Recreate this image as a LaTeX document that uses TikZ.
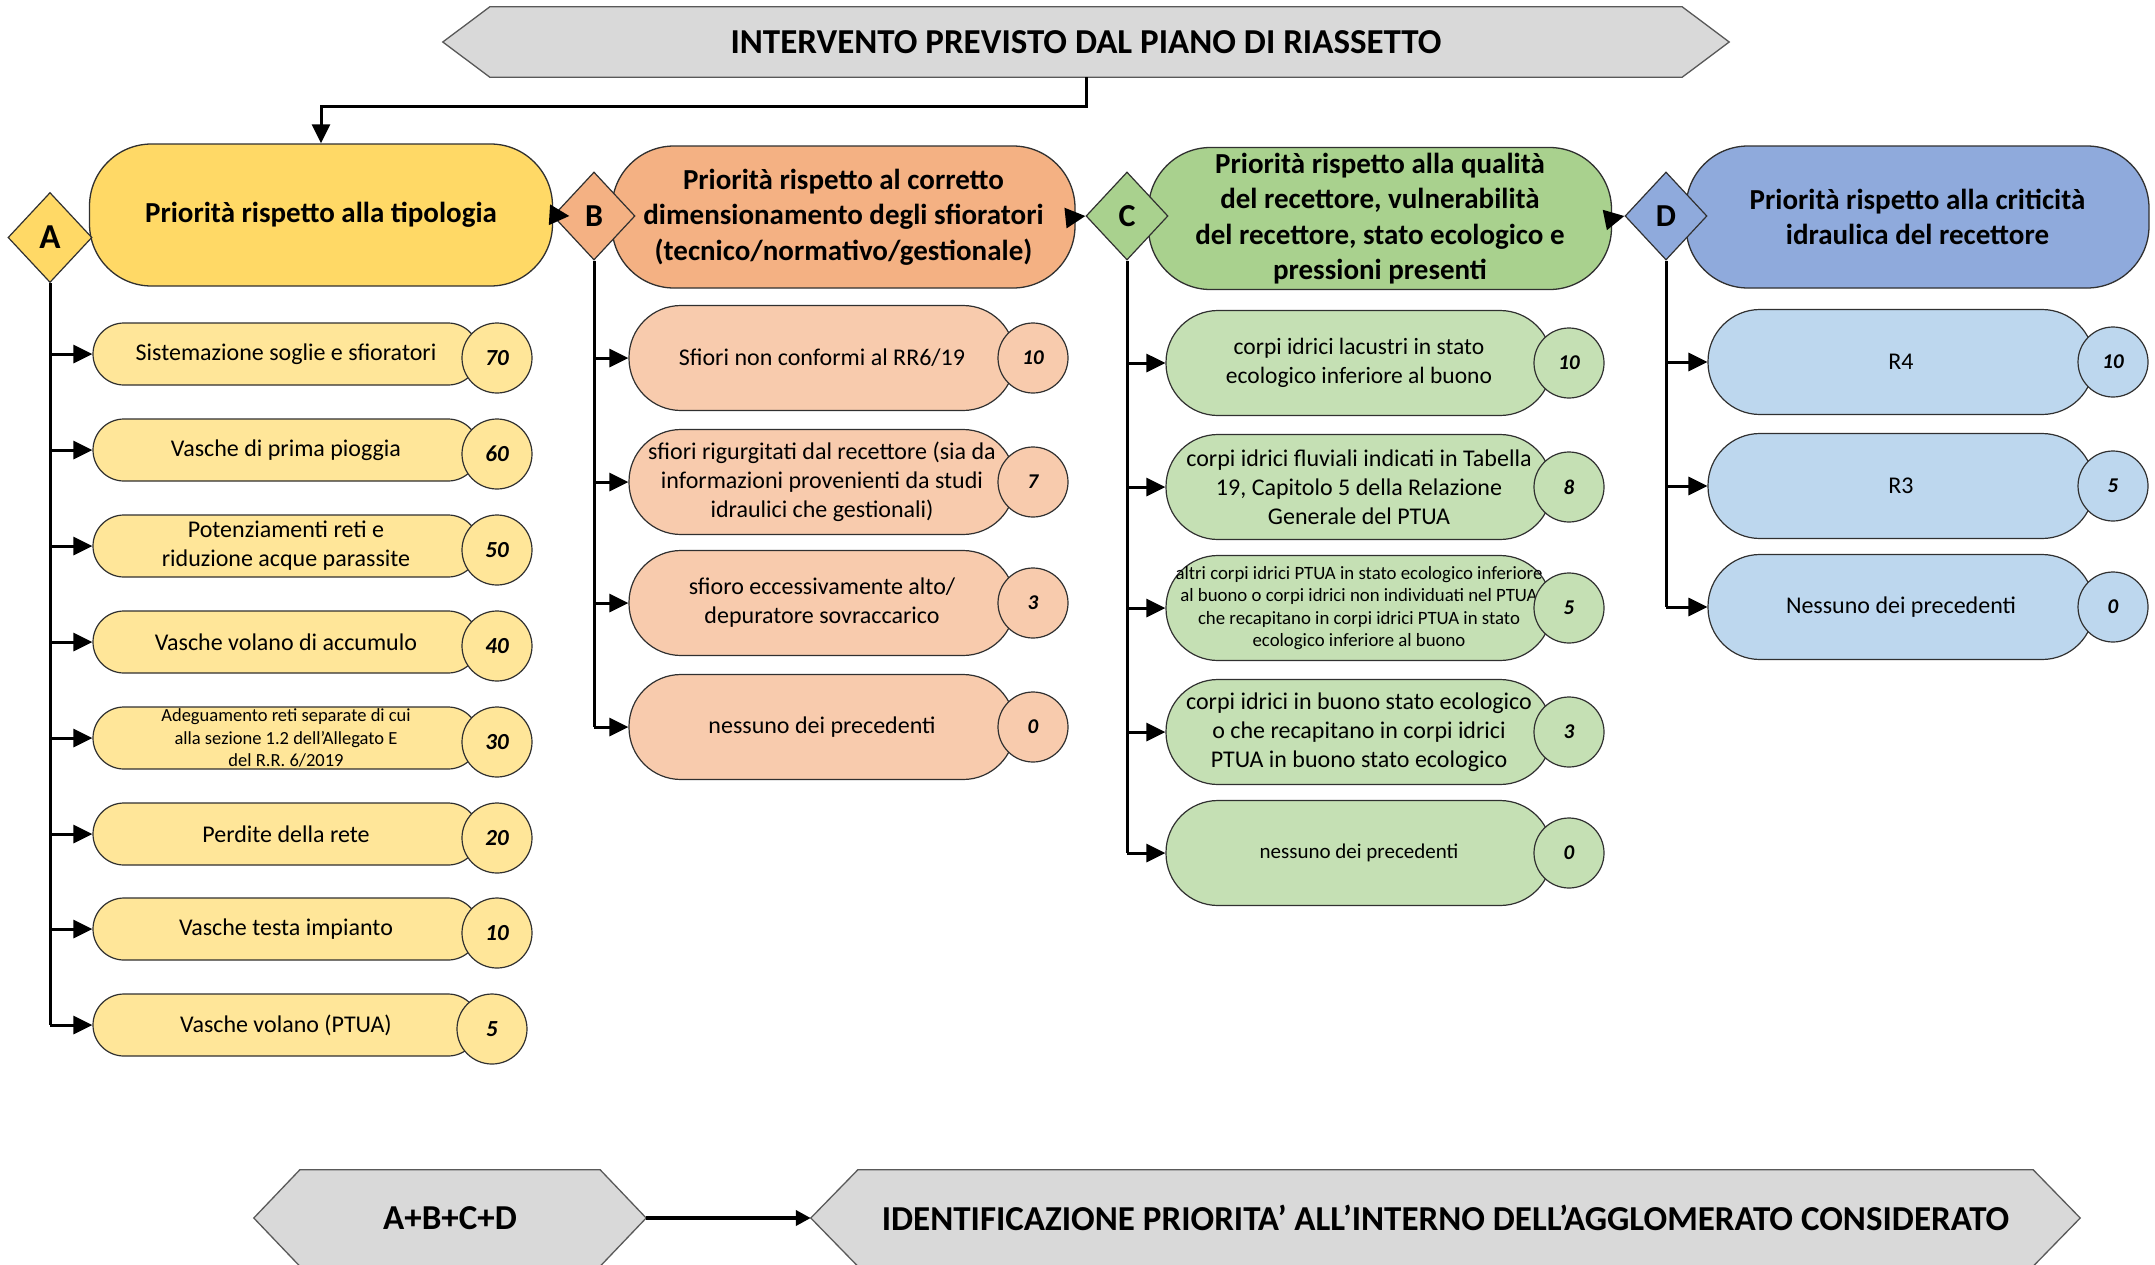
\documentclass[tikz,border=0pt]{standalone}
\usepackage{fontspec}
\setmainfont{Carlito}
\usetikzlibrary{shapes.geometric,arrows.meta,backgrounds}
\definecolor{hdrA}{HTML}{FFD966}
\definecolor{itmA}{HTML}{FFE699}
\definecolor{hdrB}{HTML}{F4B183}
\definecolor{itmB}{HTML}{F8CBAD}
\definecolor{hdrC}{HTML}{A9D18E}
\definecolor{itmC}{HTML}{C5E0B4}
\definecolor{hdrD}{HTML}{8FAADC}
\definecolor{itmD}{HTML}{BDD7EE}
\definecolor{hexgray}{HTML}{D9D9D9}
\definecolor{edgec}{HTML}{303030}
\newcommand{\hexoutline}[2]{\draw[hexline] (#1.west) -- ([xshift=#2]#1.north west) -- ([xshift=-#2]#1.north east) -- (#1.east) -- ([xshift=-#2]#1.south east) -- ([xshift=#2]#1.south west) -- cycle;}
\begin{document}
\begin{tikzpicture}[x=1pt,y=-1pt,
  hextxt/.style={inner sep=0pt, font=\fontsize{35}{42}\selectfont\bfseries},
  hexline/.style={draw=gray!70!black, line width=1.3pt, fill=hexgray},
  hdr/.style={draw=edgec, line width=1.3pt, rounded corners=62pt, minimum width=463pt, minimum height=142pt, inner sep=0pt, align=center, font=\fontsize{29}{35.5}\selectfont\bfseries},
  dia/.style={diamond, draw=edgec, line width=1.2pt, minimum width=82pt, minimum height=88pt, inner sep=0pt, font=\fontsize{32}{32}\selectfont\bfseries},
  itS/.style={draw=edgec, line width=1.2pt, rounded corners=31pt, minimum width=386pt, minimum height=62pt, inner sep=0pt, align=center, font=\fontsize{24}{29}\selectfont},
  itL/.style={draw=edgec, line width=1.2pt, rounded corners=52pt, minimum width=386pt, minimum height=105pt, inner sep=0pt, align=center, font=\fontsize{24}{29}\selectfont},
  num/.style={circle, draw=edgec, line width=1.2pt, minimum size=70pt, inner sep=0pt, font=\fontsize{21}{21}\selectfont\bfseries\itshape},
  conn/.style={line width=3pt, -{Triangle[length=19pt,width=18pt]}},
  hdarr/.style={line width=3pt, -{Triangle[length=20pt,width=20pt]}},
  spine/.style={line width=3pt}]
\useasboundingbox (0,0) rectangle (2155,1264);
\begin{scope}[on background layer]
\fill[white] (0,0) rectangle (2155,1264);
\end{scope}
% top title
\node[hextxt, minimum width=1286pt, minimum height=70pt] (top) at (1086,42) {INTERVENTO PREVISTO DAL PIANO DI RIASSETTO};
% headers
\node[hdr, fill=hdrA] (hA) at (321,215) {Priorità rispetto alla tipologia};
\node[hdr, fill=hdrB] (hB) at (843.5,217) {Priorità rispetto al corretto\\dimensionamento degli sfioratori\\(tecnico/normativo/gestionale)};
\node[hdr, fill=hdrC] (hC) at (1380,218.5) {Priorità rispetto alla qualità\\del recettore, vulnerabilità\\del recettore, stato ecologico e\\pressioni presenti};
\node[hdr, fill=hdrD] (hD) at (1917.5,217) {Priorità rispetto alla criticità\\idraulica del recettore};
% diamonds
\node[dia, fill=hdrA, minimum width=84pt, minimum height=90pt, font=\fontsize{35}{35}\selectfont\bfseries] (dA) at (50,237.5) {A};
\node[dia, fill=hdrB] (dB) at (594,216) {B};
\node[dia, fill=hdrC] (dC) at (1127,216) {C};
\node[dia, fill=hdrD] (dD) at (1666,216) {D};
% top connector
\draw[conn] (top.south) -- ++(0,29) -| (hA.north);
% header arrows
\draw[hdarr] (hA.east) -- ([xshift=17pt]dB.west);
\draw[hdarr] (hB.east) -- (dC.west);
\draw[hdarr] (hC.east) -- (dD.west);
% column A
\node[itS, fill=itmA] (a1) at (286,354) {Sistemazione soglie e sfioratori};
\node[itS, fill=itmA] (a2) at (286,450) {Vasche di prima pioggia};
\node[itS, fill=itmA] (a3) at (286,546) {Potenziamenti reti e\\riduzione acque parassite};
\node[itS, fill=itmA] (a4) at (286,642) {Vasche volano di accumulo};
\node[itS, fill=itmA, font=\fontsize{18.5}{22.5}\selectfont] (a5) at (286,738) {Adeguamento reti separate di cui\\alla sezione 1.2 dell’Allegato E\\del R.R. 6/2019};
\node[itS, fill=itmA] (a6) at (286,834) {Perdite della rete};
\node[itS, fill=itmA] (a7) at (286,929) {Vasche testa impianto};
\node[itS, fill=itmA] (a8) at (286,1025) {Vasche volano (PTUA)};
\node[num, fill=itmA, font=\fontsize{23}{23}\selectfont\bfseries\itshape] (na1) at (497,358) {70};
\node[num, fill=itmA, font=\fontsize{23}{23}\selectfont\bfseries\itshape] (na2) at (497,454) {60};
\node[num, fill=itmA, font=\fontsize{23}{23}\selectfont\bfseries\itshape] (na3) at (497,550) {50};
\node[num, fill=itmA, font=\fontsize{23}{23}\selectfont\bfseries\itshape] (na4) at (497,646) {40};
\node[num, fill=itmA, font=\fontsize{23}{23}\selectfont\bfseries\itshape] (na5) at (497,742) {30};
\node[num, fill=itmA, font=\fontsize{23}{23}\selectfont\bfseries\itshape] (na6) at (497,838) {20};
\node[num, fill=itmA, font=\fontsize{23}{23}\selectfont\bfseries\itshape] (na7) at (497,933) {10};
\node[num, fill=itmA, font=\fontsize{23}{23}\selectfont\bfseries\itshape] (na8) at (492,1029) {5};
\draw[spine] (dA.south) -- (dA.south |- a8.west);
\foreach \i in {1,...,8} {\draw[conn] (dA.south |- a\i.west) -- (a\i.west);}
% column B
\node[itL, fill=itmB] (b1) at (822,358) {Sfiori non conformi al RR6/19};
\node[itL, fill=itmB] (b2) at (822,482) {sfiori rigurgitati dal recettore (sia da\\informazioni provenienti da studi\\idraulici che gestionali)};
\node[itL, fill=itmB] (b3) at (822,603) {sfioro eccessivamente alto/\\depuratore sovraccarico};
\node[itL, fill=itmB] (b4) at (822,727) {nessuno dei precedenti};
\node[num, fill=itmB] (nb1) at (1033,358) {10};
\node[num, fill=itmB] (nb2) at (1033,482) {7};
\node[num, fill=itmB] (nb3) at (1033,603) {3};
\node[num, fill=itmB] (nb4) at (1033,727) {0};
\draw[spine] (dB.south) -- (dB.south |- b4.west);
\foreach \i in {1,...,4} {\draw[conn] (dB.south |- b\i.west) -- (b\i.west);}
% column C
\node[itL, fill=itmC, font=\fontsize{23.5}{29}\selectfont] (c1) at (1359,363) {corpi idrici lacustri in stato\\ecologico inferiore al buono};
\node[itL, fill=itmC] (c2) at (1359,487) {corpi idrici fluviali indicati in Tabella\\19, Capitolo 5 della Relazione\\Generale del PTUA};
\node[itL, fill=itmC, font=\fontsize{18.8}{22.5}\selectfont] (c3) at (1359,608) {altri corpi idrici PTUA in stato ecologico inferiore\\al buono o corpi idrici non individuati nel PTUA\\che recapitano in corpi idrici PTUA in stato\\ecologico inferiore al buono};
\node[itL, fill=itmC] (c4) at (1359,732) {corpi idrici in buono stato ecologico\\o che recapitano in corpi idrici\\PTUA in buono stato ecologico};
\node[itL, fill=itmC, font=\fontsize{21}{26}\selectfont] (c5) at (1359,853) {nessuno dei precedenti};
\node[num, fill=itmC] (nc1) at (1569,363) {10};
\node[num, fill=itmC] (nc2) at (1569,487) {8};
\node[num, fill=itmC] (nc3) at (1569,608) {5};
\node[num, fill=itmC] (nc4) at (1569,732) {3};
\node[num, fill=itmC] (nc5) at (1569,853) {0};
\draw[spine] (dC.south) -- (dC.south |- c5.west);
\foreach \i in {1,...,5} {\draw[conn] (dC.south |- c\i.west) -- (c\i.west);}
% column D
\node[itL, fill=itmD] (d1) at (1901,362) {R4};
\node[itL, fill=itmD] (d2) at (1901,486) {R3};
\node[itL, fill=itmD] (d3) at (1901,607) {Nessuno dei precedenti};
\node[num, fill=itmD] (nd1) at (2113,362) {10};
\node[num, fill=itmD] (nd2) at (2113,486) {5};
\node[num, fill=itmD] (nd3) at (2113,607) {0};
\draw[spine] (dD.south) -- (dD.south |- d3.west);
\foreach \i in {1,...,3} {\draw[conn] (dD.south |- d\i.west) -- (d\i.west);}
% bottom
\node[hextxt, minimum width=392pt, minimum height=96pt] (lh) at (450,1218) {A+B+C+D};
\node[hextxt, minimum width=1269pt, minimum height=96pt] (rh) at (1445.5,1218) {IDENTIFICAZIONE PRIORITA’ ALL’INTERNO DELL’AGGLOMERATO CONSIDERATO};
\draw[line width=4pt, -{Triangle[length=15pt,width=15pt]}] (lh.east) -- (rh.west);
\begin{scope}[on background layer]
\hexoutline{top}{47pt}
\hexoutline{lh}{46pt}
\hexoutline{rh}{47pt}
\end{scope}
\end{tikzpicture}
\end{document}
